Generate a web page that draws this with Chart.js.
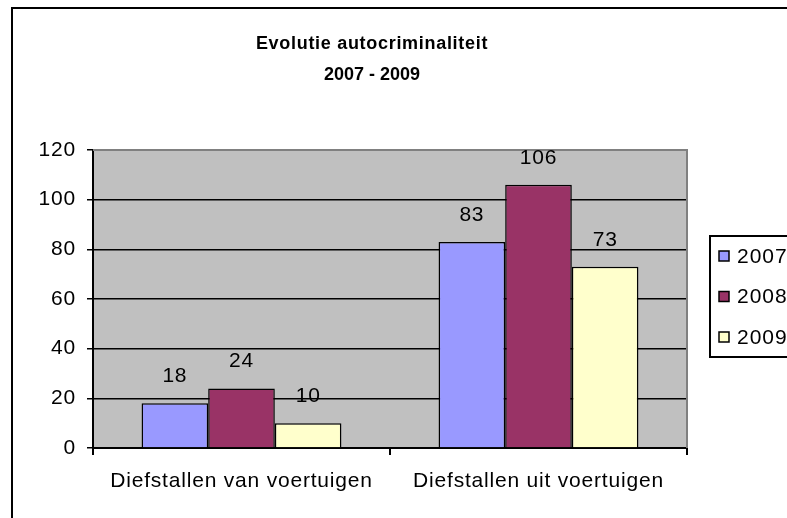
<!DOCTYPE html>
<html lang="nl">
<head>
    <meta charset="UTF-8">
    <title>Evolutie autocriminaliteit</title>
    <script src="https://cdn.jsdelivr.net/npm/chart.js"></script>
    <style>
        html, body {
            margin: 0;
            padding: 0;
            background: #fff;
            overflow: hidden;
            width: 787px;
            height: 518px;
        }
        canvas {
            display: block;
        }
    </style>
</head>
<body>

    <canvas id="crimeChart" width="830" height="540" style="width:830px;height:540px"></canvas>

    <script>
        // chart data
        const categories = ['Diefstallen van voertuigen', 'Diefstallen uit voertuigen'];
        const years = ['2007', '2008', '2009'];
        const values2007 = [18, 83];
        const values2008 = [24, 106];
        const values2009 = [10, 73];
        const yTicks = [0, 20, 40, 60, 80, 100, 120];

        const titleLines = ['Evolutie autocriminaliteit', '2007 - 2009'];
        const barColors = ['#9999FF', '#993366', '#FFFFCC'];

        const FONT = 'Arial, "Liberation Sans", sans-serif';
        const SPACING = '0.8px';   // Excel-ish wide letter spacing

        const ctx = document.getElementById('crimeChart').getContext('2d');

        // frame, plot background, title, value labels and legend
        const excelLook = {
            id: 'excelLook',
            beforeUpdate(chart) {
                chart.ctx.letterSpacing = SPACING;
            },
            beforeDraw(chart) {
                const c = chart.ctx;
                const a = chart.chartArea;
                c.letterSpacing = SPACING;
                c.save();
                c.fillStyle = '#C0C0C0';
                c.fillRect(a.left, a.top, a.right - a.left, a.bottom - a.top);
                c.restore();
            },
            beforeDatasetsDraw(chart) {
                const c = chart.ctx;
                const a = chart.chartArea;
                c.save();
                c.strokeStyle = '#808080';
                c.lineWidth = 2;
                c.beginPath();
                c.moveTo(a.left, a.top);
                c.lineTo(a.right, a.top);
                c.lineTo(a.right, a.bottom);
                c.stroke();
                c.restore();
            },
            afterDatasetsDraw(chart) {
                const c = chart.ctx;
                c.save();
                c.font = '21px ' + FONT;
                c.fillStyle = '#000';
                c.textAlign = 'center';
                c.textBaseline = 'middle';
                chart.data.datasets.forEach((ds, i) => {
                    chart.getDatasetMeta(i).data.forEach((bar, j) => {
                        c.fillText(String(ds.data[j]), bar.x, bar.y - 27);
                    });
                });
                c.restore();
            },
            afterDraw(chart) {
                const c = chart.ctx;
                c.save();
                // outer frame (right and bottom edges lie outside the crop)
                c.strokeStyle = '#000';
                c.lineWidth = 2;
                c.strokeRect(12, 8, 805, 520);

                // title
                c.font = 'bold 18px ' + FONT;
                c.textAlign = 'center';
                c.textBaseline = 'middle';
                c.fillStyle = '#000';
                c.letterSpacing = '0.7px';
                c.fillText(titleLines[0], 372, 44);
                c.letterSpacing = '0px';
                c.fillText(titleLines[1], 372, 75);

                // legend
                c.letterSpacing = '1px';
                c.lineWidth = 2;
                c.strokeRect(710, 236, 110, 121);
                c.font = '21px ' + FONT;
                c.textAlign = 'left';
                chart.data.datasets.forEach((ds, i) => {
                    const y = 256 + i * 40.5;
                    c.fillStyle = ds.backgroundColor;
                    c.fillRect(719, y - 5, 10, 10);
                    c.lineWidth = 1.5;
                    c.strokeRect(719, y - 5, 10, 10);
                    c.fillStyle = '#000';
                    c.fillText(ds.label, 737, y + 1);
                });
                c.restore();
            }
        };

        const crimeChart = new Chart(ctx, {
            type: 'bar',
            data: {
                labels: categories,
                datasets: years.map((year, i) => ({
                    label: year,
                    data: [values2007, values2008, values2009][i],
                    backgroundColor: barColors[i],
                    borderColor: '#000',
                    borderWidth: 1.5,
                    barPercentage: 1,
                    categoryPercentage: 0.673
                }))
            },
            options: {
                responsive: false,
                animation: false,
                events: [],
                layout: {
                    padding: { left: 12, top: 150, right: 143, bottom: 0 }
                },
                plugins: {
                    legend: { display: false },
                    title: { display: false },
                    tooltip: { enabled: false }
                },
                scales: {
                    x: {
                        afterFit(scale) { scale.height = 92; },
                        grid: {
                            drawOnChartArea: false,
                            color: '#000',
                            lineWidth: 2,
                            tickLength: 7
                        },
                        border: { color: '#000', width: 2 },
                        ticks: {
                            color: '#000',
                            padding: 14,
                            maxRotation: 0,
                            font: { family: FONT, size: 21 }
                        }
                    },
                    y: {
                        min: yTicks[0],
                        max: yTicks[yTicks.length - 1],
                        afterFit(scale) { scale.width = 81; },
                        afterBuildTicks(scale) {
                            scale.ticks = yTicks.map(v => ({ value: v }));
                        },
                        grid: {
                            color: c => (c.tick && c.tick.value === 120) ? 'rgba(0,0,0,0)' : '#000',
                            lineWidth: 1.5,
                            tickLength: 6,
                            tickColor: '#000'
                        },
                        border: { color: '#000', width: 2 },
                        ticks: {
                            color: '#000',
                            padding: 11,
                            font: { family: FONT, size: 21 }
                        }
                    }
                }
            },
            plugins: [excelLook]
        });
    </script>

</body>
</html>
